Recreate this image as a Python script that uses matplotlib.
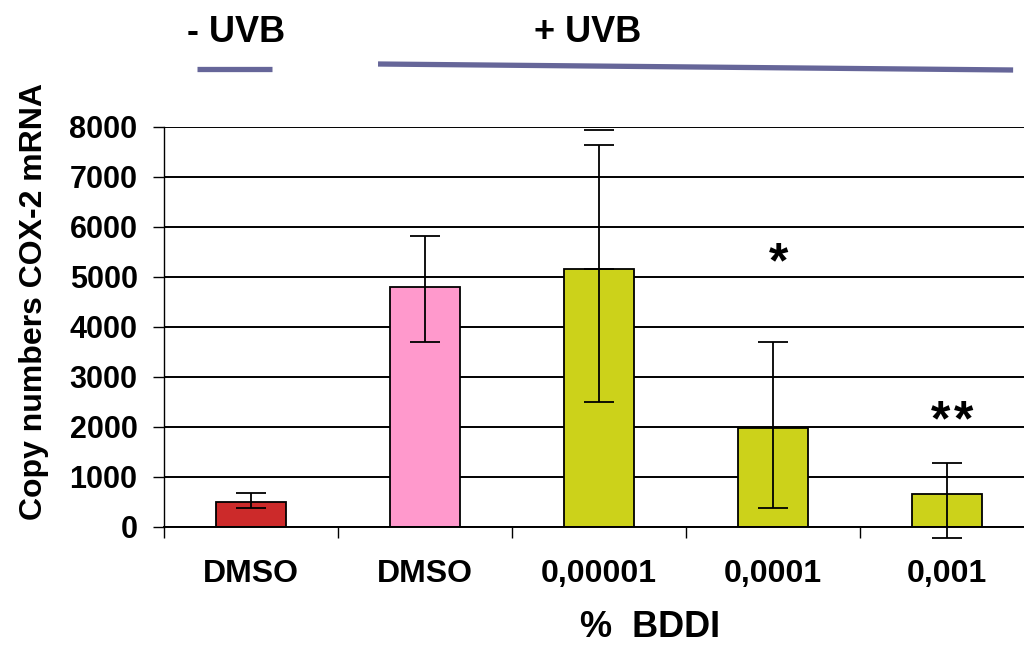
import matplotlib
matplotlib.use('Agg')
import matplotlib.pyplot as plt
import numpy as np

plt.rcParams['font.family'] = ['Liberation Sans', 'DejaVu Sans']
plt.rcParams['font.weight'] = 'bold'

# data
categories = ['DMSO', 'DMSO', '0,00001', '0,0001', '0,001']
copy_numbers = [500, 4810, 5170, 1980, 660]
err_low = [110, 1100, 2670, 1590, 880]
err_high = [190, 1020, 2480, 1730, 630]
bar_colors = ['#CC2A2A', '#FF99CC', '#CCD21A', '#CCD21A', '#CCD21A']
extra_cap = 7950          # stray second cap above the 0,00001 bar
star_bars = [3, 4]
star_counts = [1, 2]
star_y = [5000, 1840]
yticks = np.arange(0, 8001, 1000)

fig = plt.figure(figsize=(10.24, 6.46), dpi=100)
ax = fig.add_axes([164 / 1024, 1 - 527 / 646, 870 / 1024, 400 / 646])

x = np.arange(len(categories))
ax.set_axisbelow(True)
ax.bar(x, copy_numbers, width=0.4, color=bar_colors, edgecolor='black',
       linewidth=1.3, zorder=2)
ax.errorbar(x, copy_numbers, yerr=[err_low, err_high], fmt='none',
            ecolor='black', elinewidth=1.3, capsize=10.8, capthick=1.3,
            zorder=3, clip_on=False)
# second cap on the 0,00001 bar
ax.errorbar([x[2]], [copy_numbers[2]], yerr=[[0], [extra_cap - copy_numbers[2]]],
            fmt='none', ecolor='black', elinewidth=0, capsize=10.8,
            capthick=1.3, zorder=3, clip_on=False)

ax.set_xlim(-0.5, len(categories) - 0.5)
ax.set_ylim(0, 8000)
ax.set_yticks(yticks)
ax.set_yticklabels([str(v) for v in yticks], fontsize=22, fontweight='bold')
ax.yaxis.grid(True, color='black', linewidth=1.4)
ax.tick_params(axis='y', length=8, width=1.0, pad=11, direction='out')

ax.set_xticks(np.arange(len(categories) + 1) - 0.5)
ax.set_xticklabels([])
ax.set_xticks(x, minor=True)
ax.set_xticklabels(categories, minor=True, fontsize=23, fontweight='bold')
ax.tick_params(axis='x', which='major', length=8, width=1.0, direction='out')
ax.tick_params(axis='x', which='minor', length=0, pad=23)

for s in ['top', 'right']:
    ax.spines[s].set_visible(False)
ax.spines['left'].set_linewidth(1.0)
ax.spines['bottom'].set_linewidth(1.4)

# significance stars, drawn one by one to keep the wide spacing
for i, n, yv in zip(star_bars, star_counts, star_y):
    offsets = (np.arange(n) - (n - 1) / 2) * 0.13
    for off in offsets:
        ax.text(x[i] + 0.03 + off, yv, '*', ha='center', va='baseline',
                fontsize=36, fontweight='bold')

# treatment headers
ax.text(-0.086, 9700, '- UVB', ha='center', va='baseline', fontsize=26,
        fontweight='bold', clip_on=False)
ax.text(1.937, 9700, '+ UVB', ha='center', va='baseline', fontsize=26,
        fontweight='bold', clip_on=False)
ax.plot([-0.31, 0.12], [9160, 9160], color='#666699', linewidth=3.8,
        solid_capstyle='butt', clip_on=False)
ax.plot([0.73, 4.38], [9260, 9140], color='#666699', linewidth=3.8,
        solid_capstyle='butt', clip_on=False)

fig.text(49 / 1024, 1 - 302 / 646, 'Copy numbers COX-2 mRNA', rotation=90,
         ha='right', va='center', fontsize=23, fontweight='bold')
fig.text(650 / 1024, 0.002, '%  BDDI', ha='center', va='bottom',
         fontsize=26, fontweight='bold')

fig.savefig('out.png', dpi=100)
